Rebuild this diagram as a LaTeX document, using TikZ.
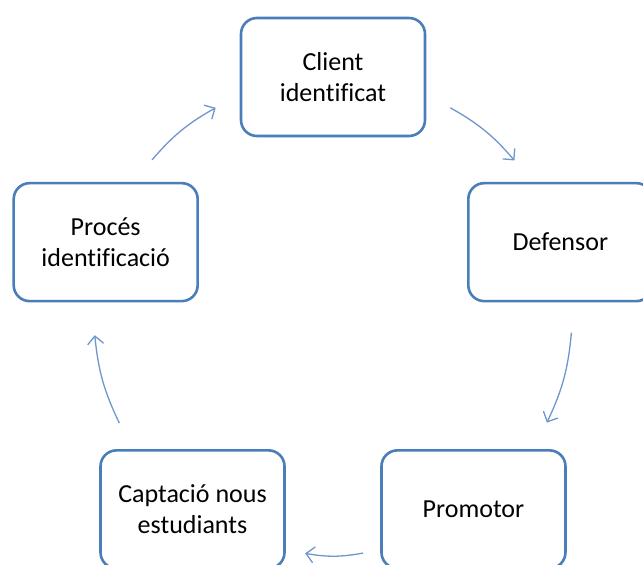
\documentclass[tikz,border=0pt]{standalone}
\usepackage{fontspec}
\setmainfont{Carlito}[Ligatures=NoCommon]
\usepackage{tikz}
\usetikzlibrary{arrows.meta}
\definecolor{boxBlue}{RGB}{74,126,187}
\definecolor{linkBlue}{RGB}{110,150,205}

\begin{document}
\begin{tikzpicture}[x=1pt, y=1pt,
            every node/.style={font=\fontsize{26}{30.5}\selectfont}]
            \tikzstyle{stageStyle} = [rectangle, rounded corners=16, draw=boxBlue,
                line width=2.6, fill=white, align=center,
                minimum width=184, minimum height=118]
            \tikzstyle{blueLink} = [draw=linkBlue, line width=1.3,
                -{Straight Barb[length=8, width=16]}]
            \useasboundingbox (-333,-249) rectangle (310,316);
            \node[stageStyle] (client)   at (90:239)  {Client\\identificat};
            \node[stageStyle] (defensor) at (18:239)  {Defensor};
            \node[stageStyle] (promotor) at (-54:239) {Promotor};
            \node[stageStyle] (captacio) at (234:239) {Captació nous\\estudiants};
            \node[stageStyle] (proces)   at (162:239) {Procés\\identificació};
            \foreach \name/\from/\to in {cd/60.6/40.6, dp/-4/-26.5,
                                pc/-82.8/-96.7, cpr/206.6/184.6, pcl/139.2/119.4}
            {
                \coordinate (\name-a) at (\from:239);
                \coordinate (\name-b) at (\to:239);
                \draw[blueLink] (\name-a) to[bend left=10] (\name-b);
            }
        \end{tikzpicture}
\end{document}
